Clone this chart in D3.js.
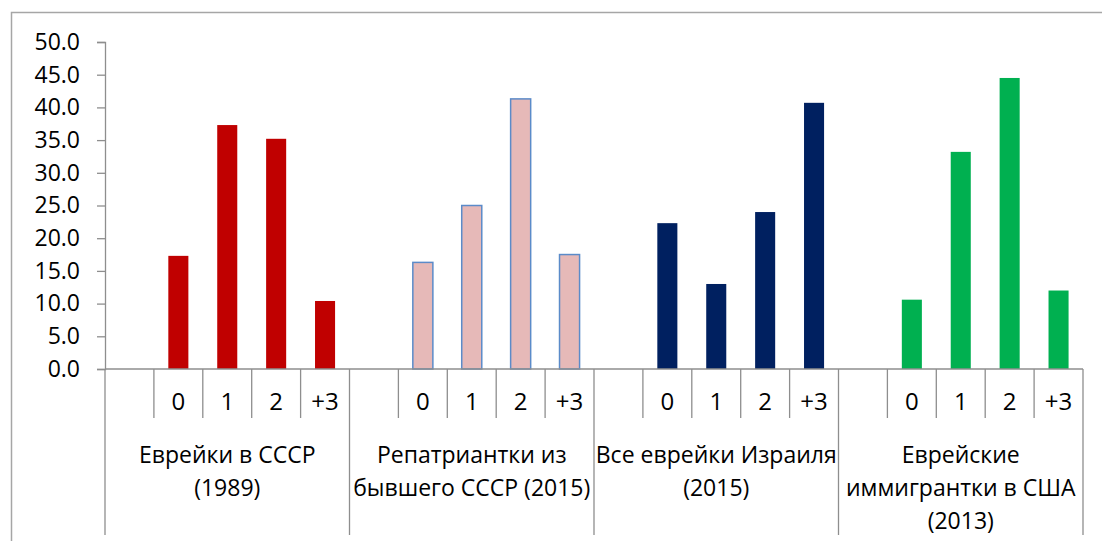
<!DOCTYPE html>
<html>
<head>
<meta charset="utf-8">
<script src="https://cdn.jsdelivr.net/npm/d3@7"></script>
<style>
  body { margin: 0; background: #fff; }
  text { font-family: "Open Sans", sans-serif; fill: #000; }
</style>
</head>
<body>
<div id="container"></div>
<script>
// categories
var groups = ['g1', 'g2', 'g3', 'g4'];
var groupLabels = [
    ['Еврейки в СССР', '(1989)'],
    ['Репатриантки из', 'бывшего СССР (2015)'],
    ['Все еврейки Израиля', '(2015)'],
    ['Еврейские', 'иммигрантки в США', '(2013)']
];
var cats = ['', '0', '1', '2', '+3'];

// values per group (first slot is empty)
var ussr1989 = [null, 17.3, 37.3, 35.2, 10.4];
var repat2015 = [null, 16.3, 25.0, 41.3, 17.5];
var israel2015 = [null, 22.3, 13.0, 24.0, 40.7];
var usa2013 = [null, 10.6, 33.2, 44.5, 12.0];
var series = [ussr1989, repat2015, israel2015, usa2013];

var yTicks = [0, 5, 10, 15, 20, 25, 30, 35, 40, 45, 50];

var colors = ['#c00000', '#e6b9b8', '#002060', '#00b050'];
var strokes = [null, '#5b8bc9', null, null];

//Width and height
var w = 1102;
var h = 541;
var axisColor = '#8e8e8e';

var svg = d3.select('#container')
    .append('svg')
    .attr('width', w)
    .attr('height', h);

//outer frame (only top and left visible)
svg.append('path')
    .attr('d', 'M11.5,541V12.5H1102')
    .attr('fill', 'none')
    .attr('stroke', '#a6a6a6')
    .attr('stroke-width', 1.5);

var y = d3.scaleLinear()
    .domain([0, 50])
    .range([369, 42]);

var x0 = d3.scaleBand()
    .domain(groups)
    .range([105, 1083]);

var x1 = d3.scaleBand()
    .domain(cats)
    .range([0, x0.bandwidth()]);

var barW = x1.bandwidth() * 0.41;

//y axis
var yAxis = d3.axisLeft(y)
    .tickValues(yTicks)
    .tickFormat(d3.format('.1f'))
    .tickSize(8)
    .tickPadding(17);

var gy = svg.append('g')
    .attr('transform', 'translate(105,0)')
    .call(yAxis);
gy.select('.domain').attr('stroke', axisColor).attr('stroke-width', 1.3);
gy.selectAll('.tick line').attr('stroke', axisColor).attr('stroke-width', 1.3);
gy.selectAll('.tick text')
    .style('font-size', '23px')
    .attr('fill', '#000');

//bars
var gGroups = svg.selectAll('.grp')
    .data(groups)
    .enter()
    .append('g')
    .attr('class', 'grp')
    .attr('transform', function(d) { return 'translate(' + x0(d) + ',0)'; });

gGroups.each(function(g, i) {
    var sel = d3.select(this);
    var vals = series[i];

    sel.selectAll('rect')
        .data(cats.filter(function(c, j) { return vals[j] != null; }))
        .enter()
        .append('rect')
        .attr('x', function(c) { return x1(c) + (x1.bandwidth() - barW) / 2; })
        .attr('y', function(c) { return y(vals[cats.indexOf(c)]); })
        .attr('width', barW)
        .attr('height', function(c) { return y(0) - y(vals[cats.indexOf(c)]); })
        .attr('fill', colors[i])
        .attr('stroke', strokes[i] || 'none')
        .attr('stroke-width', 1.5);

    //inner category ticks
    sel.selectAll('line.cat')
        .data(cats.slice(1))
        .enter()
        .append('line')
        .attr('class', 'cat')
        .attr('x1', function(c) { return x1(c); })
        .attr('x2', function(c) { return x1(c); })
        .attr('y1', y(0))
        .attr('y2', 418)
        .attr('stroke', axisColor)
        .attr('stroke-width', 1.3);

    //category labels
    sel.selectAll('text.cat')
        .data(cats)
        .enter()
        .append('text')
        .attr('class', 'cat')
        .attr('x', function(c) { return x1(c) + x1.bandwidth() / 2; })
        .attr('y', 410)
        .attr('text-anchor', 'middle')
        .style('font-size', '24px')
        .text(function(c) { return c; });

    //group label
    sel.selectAll('text.grp')
        .data(groupLabels[i])
        .enter()
        .append('text')
        .attr('class', 'grp')
        .attr('x', x0.bandwidth() / 2)
        .attr('y', function(d, k) { return 463 + k * 33; })
        .attr('text-anchor', 'middle')
        .style('font-size', '23px')
        .text(function(d) { return d; });
});

//group boundaries
var bounds = groups.map(function(g) { return x0(g); }).concat([x0.range()[1]]);
svg.selectAll('line.bound')
    .data(bounds)
    .enter()
    .append('line')
    .attr('class', 'bound')
    .attr('x1', function(d) { return d; })
    .attr('x2', function(d) { return d; })
    .attr('y1', y(0))
    .attr('y2', 535)
    .attr('stroke', axisColor)
    .attr('stroke-width', 1.3);

//x axis line
svg.append('line')
    .attr('x1', 105)
    .attr('x2', 1083)
    .attr('y1', y(0))
    .attr('y2', y(0))
    .attr('stroke', axisColor)
    .attr('stroke-width', 1.5);
</script>
</body>
</html>
